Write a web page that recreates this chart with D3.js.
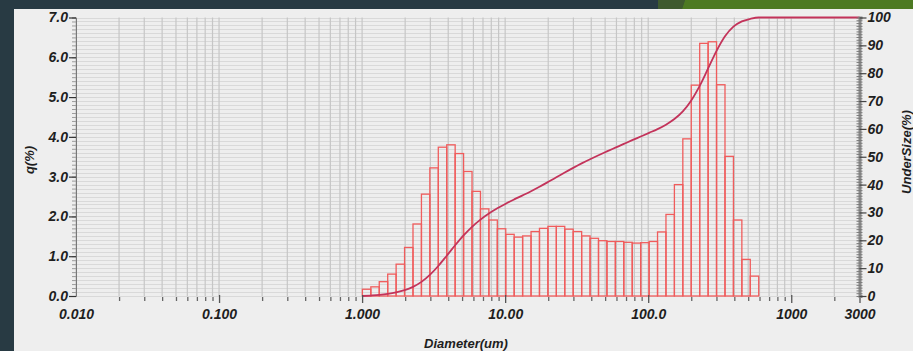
<!DOCTYPE html>
<html>
<head>
<meta charset="utf-8">
<script src="https://cdn.jsdelivr.net/npm/d3@7/dist/d3.min.js"></script>
<style>
  html, body { margin: 0; padding: 0; background: #283a43; }
  svg { display: block; }
  text { font-family: "Liberation Sans", Arial, sans-serif; font-weight: bold; font-style: italic; fill: #1e1e1e; }
</style>
</head>
<body>
<svg id="chart" width="913" height="351"></svg>
<script>
// Channel edges of the size classes (um)
const diameterEdges = [1.005, 1.151, 1.318, 1.510, 1.729, 1.981, 2.269, 2.599, 2.976, 3.409,
  3.905, 4.472, 5.122, 5.867, 6.720, 7.697, 8.816, 10.097, 11.565, 13.246,
  15.172, 17.377, 19.904, 22.797, 26.111, 29.907, 34.255, 39.234, 44.938, 51.471,
  58.953, 67.523, 77.339, 88.583, 101.460, 116.210, 133.103, 152.453, 174.616, 200.000,
  229.075, 262.376, 300.518, 344.206, 394.244, 451.556, 517.200, 592.387];

// Frequency q(%) of each channel
const qPercent = [0.17, 0.23, 0.36, 0.55, 0.80, 1.22, 1.81, 2.56, 3.22, 3.74,
  3.80, 3.58, 3.13, 2.63, 2.19, 1.91, 1.69, 1.55, 1.48, 1.51,
  1.62, 1.70, 1.75, 1.75, 1.68, 1.62, 1.51, 1.45, 1.39, 1.37,
  1.37, 1.35, 1.33, 1.34, 1.37, 1.61, 2.05, 2.80, 3.95, 5.30,
  6.35, 6.39, 5.31, 3.51, 1.91, 0.92, 0.50];

// Undersize (%) at each channel edge
const underSize = [0, 0.17, 0.39, 0.75, 1.29, 2.08, 3.29, 5.07, 7.60, 10.78,
  14.47, 18.22, 21.75, 24.84, 27.43, 29.60, 31.48, 33.15, 34.68, 36.14,
  37.63, 39.23, 40.91, 42.63, 44.36, 46.02, 47.62, 49.11, 50.54, 51.91,
  53.26, 54.61, 55.95, 57.26, 58.58, 59.93, 61.52, 63.54, 66.31, 70.21,
  75.44, 81.70, 88.01, 93.25, 96.71, 98.60, 99.51, 100];

// Axis ticks
const xMajorTicks = [0.01, 0.1, 1, 10, 100, 1000, 3000];
const xTickLabels = ["0.010", "0.100", "1.000", "10.00", "100.0", "1000", "3000"];
const qTicks = [0, 1, 2, 3, 4, 5, 6, 7];
const qTickLabels = ["0.0", "1.0", "2.0", "3.0", "4.0", "5.0", "6.0", "7.0"];
const underTicks = [0, 10, 20, 30, 40, 50, 60, 70, 80, 90, 100];

const svg = d3.select("#chart");

// Frame: dark backdrop, green band, light panel
svg.append("rect").attr("x", 0).attr("y", 0).attr("width", 913).attr("height", 351).attr("fill", "#283a43");
svg.append("polygon").attr("points", "658,0 685,0 682,9 658,9").attr("fill", "#3f5a2f");
svg.append("polygon").attr("points", "685,0 913,0 913,9 682,9").attr("fill", "#4d7a22");
svg.append("rect").attr("x", 14).attr("y", 9).attr("width", 899).attr("height", 342).attr("fill", "#eeeeee");

const x = d3.scaleLog().domain([0.01, 3000]).range([76, 859.5]);
const y = d3.scaleLinear().domain([0, 7]).range([296, 17.5]);
const yR = d3.scaleLinear().domain([0, 100]).range([296, 17.5]);

// Minor log positions 2..9 per decade, plus 2000
const minorTicks = [];
[0.01, 0.1, 1, 10, 100].forEach(d => { for (let k = 2; k <= 9; k++) minorTicks.push(d * k); });
minorTicks.push(2000);

// Horizontal grid every 0.1
const hGrid = d3.range(0, 71).map(i => i / 10);
svg.append("g").selectAll("line").data(hGrid).join("line")
  .attr("x1", x(0.01)).attr("x2", x(3000))
  .attr("y1", d => Math.round(y(d)) + 0.5).attr("y2", d => Math.round(y(d)) + 0.5)
  .attr("stroke", "#d9d9d9").attr("stroke-width", 1);

// Vertical grid
svg.append("g").selectAll("line").data(minorTicks.concat(xMajorTicks)).join("line")
  .attr("x1", d => x(d)).attr("x2", d => x(d))
  .attr("y1", y(7)).attr("y2", y(0))
  .attr("stroke", "#c6c6c6").attr("stroke-width", 1.2);

// Histogram bars
svg.append("g").selectAll("rect").data(qPercent).join("rect")
  .attr("x", (d, i) => x(diameterEdges[i]))
  .attr("width", (d, i) => x(diameterEdges[i + 1]) - x(diameterEdges[i]))
  .attr("y", d => y(d))
  .attr("height", d => y(0) - y(d))
  .attr("fill", "none")
  .attr("stroke", "#f05c5c").attr("stroke-width", 1.3);

// Undersize curve
const curvePts = diameterEdges.map((d, i) => [d, underSize[i]]);
curvePts.push([3000, 100]);
svg.append("path")
  .attr("d", d3.line().x(d => x(d[0])).y(d => yR(d[1])).curve(d3.curveMonotoneX)(curvePts))
  .attr("fill", "none").attr("stroke", "#c3335a").attr("stroke-width", 1.8);

// Bottom axis: major and minor ticks
const xAxisMajor = d3.axisBottom(x).tickValues(xMajorTicks).tickSize(8)
  .tickFormat((d, i) => xTickLabels[i]);
const gx = svg.append("g").attr("transform", `translate(0,${y(0) - 1})`).call(xAxisMajor);
gx.select(".domain").remove();
gx.selectAll(".tick line").attr("stroke", "#555").attr("stroke-width", 1.3);
gx.selectAll(".tick").filter(d => d === 0.01).select("line").remove();
gx.selectAll(".tick text").attr("font-size", 14).attr("dy", "0.95em").attr("fill", "#1e1e1e");

const gxm = svg.append("g").attr("transform", `translate(0,${y(0) + 1})`)
  .call(d3.axisBottom(x).tickValues(minorTicks).tickSize(4).tickFormat(""));
gxm.select(".domain").remove();
gxm.selectAll(".tick line").attr("stroke", "#666").attr("stroke-width", 1.3);

// Left axis: q(%)
const gyMinor = svg.append("g").attr("transform", `translate(${x(0.01)},0)`)
  .call(d3.axisLeft(y).tickValues(d3.range(0, 71).map(i => i / 10)).tickSize(4).tickFormat(""));
gyMinor.select(".domain").attr("stroke", "#777");
gyMinor.selectAll(".tick line").attr("stroke", "#9c9c9c");

const gy = svg.append("g").attr("transform", `translate(${x(0.01)},0)`)
  .call(d3.axisLeft(y).tickValues(qTicks).tickSize(7).tickFormat((d, i) => qTickLabels[i]));
gy.select(".domain").remove();
gy.selectAll(".tick line").attr("stroke", "#333").attr("stroke-width", 1.2);
gy.selectAll(".tick text").attr("font-size", 14).attr("x", -8).attr("fill", "#1e1e1e");

// Right axis: UnderSize(%)
const gyRMinor = svg.append("g").attr("transform", `translate(${x(3000)},0)`)
  .call(d3.axisRight(yR).tickValues(d3.range(0, 101)).tickSize(3).tickFormat(""));
gyRMinor.select(".domain").attr("stroke", "#8a8a8a").attr("stroke-width", 3);
gyRMinor.selectAll(".tick line").attr("stroke", "#7a7a7a").attr("x1", -3);

const gyR = svg.append("g").attr("transform", `translate(${x(3000)},0)`)
  .call(d3.axisRight(yR).tickValues(underTicks).tickSize(7));
gyR.select(".domain").remove();
gyR.selectAll(".tick line").attr("stroke", "#444").attr("stroke-width", 1.2);
gyR.selectAll(".tick text").attr("font-size", 14).attr("x", 8).attr("fill", "#1e1e1e");

// Axis titles
svg.append("text").attr("x", 466).attr("y", 348).attr("text-anchor", "middle")
  .attr("font-size", 13).text("Diameter(um)");
svg.append("text").attr("transform", "translate(34,160) rotate(-90)").attr("text-anchor", "middle")
  .attr("font-size", 13).text("q(%)");
svg.append("text").attr("transform", "translate(911,152) rotate(-90)").attr("text-anchor", "middle")
  .attr("font-size", 13).text("UnderSize(%)");
</script>
</body>
</html>
